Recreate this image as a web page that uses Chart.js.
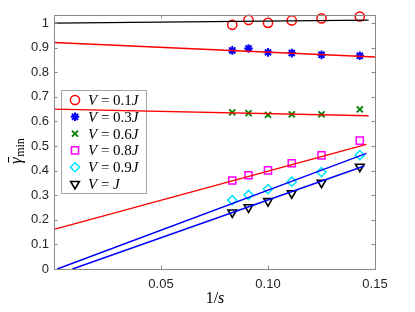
<!DOCTYPE html>
<html>
<head>
<meta charset="utf-8">
<script src="https://cdn.jsdelivr.net/npm/chart.js@4/dist/chart.umd.min.js"></script>
<style>
  html, body { margin: 0; padding: 0; background: #fff; }
  #wrap { width: 415px; height: 312px; }
</style>
</head>
<body>
<div id="wrap"><canvas id="gammaChart"></canvas></div>
<script>
// --- Data ---

// x positions: 1/s for s = 12 ... 7
const invS = [0.0833, 0.0909, 0.1000, 0.1111, 0.1250, 0.1429];

const seriesLabels = ['0.1', '0.3', '0.6', '0.8', '0.9', ''];
const v01 = [0.993, 1.013, 1.001, 1.011, 1.019, 1.027];
const v03 = [0.889, 0.897, 0.881, 0.878, 0.871, 0.867];
const v06 = [0.637, 0.634, 0.627, 0.629, 0.629, 0.649];
const v08 = [0.360, 0.381, 0.401, 0.430, 0.462, 0.522];
const v09 = [0.280, 0.301, 0.325, 0.355, 0.394, 0.463];
const v10 = [0.230, 0.251, 0.276, 0.308, 0.351, 0.416];

// fitted lines, [x0, y0, x1, y1]
const fitBlack = [0, 1.000, 0.147, 1.012];
const fitRed1 = [0, 0.921, 0.150, 0.862];
const fitRed2 = [0, 0.650, 0.147, 0.623];
const fitRed3 = [0, 0.161, 0.146, 0.507];
const fitBlue1 = [0.0015, 0, 0.146, 0.470];
const fitBlue2 = [0.0086, 0, 0.145, 0.419];

const xTicks = [0.05, 0.10, 0.15];
const xTickLabels = ['0.05', '0.10', '0.15'];
const yTicks = [0, 0.1, 0.2, 0.3, 0.4, 0.5, 0.6, 0.7, 0.8, 0.9, 1];
const yTickLabels = ['0', '0.1', '0.2', '0.3', '0.4', '0.5', '0.6', '0.7', '0.8', '0.9', '1'];

// --- Helpers ---

function toPoints(ys) {
    return ys.map((y, i) => ({ x: invS[i], y: y }));
}

function markerSet(label, ys, color, style, radius, width, rotation) {
    return {
        type: 'scatter',
        label: label,
        data: toPoints(ys),
        borderColor: color,
        backgroundColor: 'rgba(0,0,0,0)',
        pointStyle: style,
        pointRadius: radius,
        pointBorderWidth: width,
        pointRotation: rotation || 0,
        clip: false,
        isMarker: true
    };
}

function fitLine(seg, color) {
    return {
        type: 'line',
        data: [{ x: seg[0], y: seg[1] }, { x: seg[2], y: seg[3] }],
        borderColor: color,
        borderWidth: 1.4,
        pointRadius: 0,
        fill: false,
        clip: false,
        isMarker: false
    };
}

const serif = '"Liberation Serif", "DejaVu Serif", serif';
const axisGray = '#8a8a8a';

// --- Box, inward ticks, legend and axis labels ---

const framePlugin = {
    id: 'frame',
    beforeDatasetsDraw(chart) {
        const ctx = chart.ctx;
        // legend box (drawn under the lines, like the original)
        const lx = 61, ly = 90, lw = 85, lh = 103;
        ctx.save();
        ctx.fillStyle = '#fff';
        ctx.fillRect(lx, ly, lw, lh);
        ctx.strokeStyle = '#a6a6a6';
        ctx.lineWidth = 1;
        ctx.strokeRect(lx + 0.5, ly + 0.5, lw, lh);

        const markers = chart.data.datasets.filter(d => d.isMarker);
        markers.forEach((d, i) => {
            const cy = 100 + i * 16.8;
            ctx.strokeStyle = d.borderColor;
            ctx.fillStyle = 'rgba(0,0,0,0)';
            ctx.lineWidth = d.pointBorderWidth;
            Chart.helpers.drawPoint(ctx, {
                pointStyle: d.pointStyle,
                radius: d.pointRadius,
                rotation: d.pointRotation,
                borderWidth: d.pointBorderWidth
            }, 75, cy);

            // "V = 0.1J" : italic V and J, roman "= 0.1"
            ctx.fillStyle = '#000';
            ctx.textBaseline = 'middle';
            let x = 88;
            ctx.font = 'italic 15px ' + serif;
            ctx.fillText('V', x, cy + 1);
            x += ctx.measureText('V').width;
            ctx.font = '15px ' + serif;
            const mid = ' = ' + seriesLabels[i];
            ctx.fillText(mid, x, cy + 1);
            x += ctx.measureText(mid).width;
            ctx.font = 'italic 15px ' + serif;
            ctx.fillText('J', x, cy + 1);
        });
        ctx.restore();
    },
    afterDraw(chart) {
        const ctx = chart.ctx;
        const a = chart.chartArea;
        const xs = chart.scales.x, ys = chart.scales.y;
        ctx.save();
        ctx.strokeStyle = axisGray;
        ctx.lineWidth = 1;
        ctx.strokeRect(Math.round(a.left) + 0.5, Math.round(a.top) + 0.5,
            Math.round(a.right - a.left), Math.round(a.bottom - a.top));

        const len = 3.5;
        ctx.beginPath();
        xTicks.forEach(v => {
            const px = Math.round(xs.getPixelForValue(v)) + 0.5;
            ctx.moveTo(px, a.bottom); ctx.lineTo(px, a.bottom - len);
            ctx.moveTo(px, a.top); ctx.lineTo(px, a.top + len);
        });
        yTicks.forEach(v => {
            const py = Math.round(ys.getPixelForValue(v)) + 0.5;
            ctx.moveTo(a.left, py); ctx.lineTo(a.left + len, py);
            ctx.moveTo(a.right, py); ctx.lineTo(a.right - len, py);
        });
        ctx.stroke();

        // x axis title: 1/s
        ctx.fillStyle = '#000';
        ctx.textBaseline = 'alphabetic';
        ctx.font = '16px ' + serif;
        const w1 = ctx.measureText('1/').width;
        ctx.font = 'italic 16px ' + serif;
        const w2 = ctx.measureText('s').width;
        let tx = 215 - (w1 + w2) / 2;
        ctx.font = '16px ' + serif;
        ctx.fillText('1/', tx, 303);
        ctx.font = 'italic 16px ' + serif;
        ctx.fillText('s', tx + w1, 303);

        // y axis title: gamma with a bar, subscript min
        ctx.translate(21, 164);
        ctx.rotate(-Math.PI / 2);
        ctx.font = 'italic 17px ' + serif;
        ctx.fillText('\u03B3', 0, 0);
        const gw = ctx.measureText('\u03B3').width;
        ctx.beginPath();
        ctx.lineWidth = 1;
        ctx.strokeStyle = '#000';
        ctx.moveTo(1.5, -12.5);
        ctx.lineTo(gw + 0.5, -12.5);
        ctx.stroke();
        ctx.font = '12px ' + serif;
        ctx.fillText('min', gw + 0.5, 3);
        ctx.restore();
    }
};

// --- Chart ---

const ctx = document.getElementById('gammaChart').getContext('2d');
new Chart(ctx, {
    data: {
        datasets: [
            fitLine(fitBlack, '#000000'),
            fitLine(fitRed1, '#ff0000'),
            fitLine(fitRed2, '#ff0000'),
            fitLine(fitRed3, '#ff0000'),
            fitLine(fitBlue1, '#0000ff'),
            fitLine(fitBlue2, '#0000ff'),
            markerSet('V = 0.1J', v01, '#ff0000', 'circle', 4.6, 1.5),
            markerSet('V = 0.3J', v03, '#0000ff', 'star', 4.3, 2),
            markerSet('V = 0.6J', v06, '#008000', 'crossRot', 4.3, 1.8),
            markerSet('V = 0.8J', v08, '#ff00ff', 'rect', 5, 1.5),
            markerSet('V = 0.9J', v09, '#00e5ff', 'rectRot', 4.6, 1.5),
            markerSet('V = J', v10, '#000000', 'triangle', 5, 1.6, 180)
        ]
    },
    options: {
        responsive: true,
        maintainAspectRatio: false,
        animation: false,
        layout: { padding: { left: 0, right: 40, top: 15, bottom: 0 } },
        plugins: {
            legend: { display: false },
            tooltip: { enabled: false }
        },
        scales: {
            x: {
                type: 'linear',
                min: 0,
                max: 0.15,
                grid: { display: false, drawTicks: false },
                border: { display: false },
                afterBuildTicks: scale => {
                    scale.ticks = xTicks.map(v => ({ value: v }));
                },
                afterFit: scale => { scale.height = 43; },
                ticks: {
                    padding: 8,
                    color: '#262626',
                    font: { family: '"Liberation Sans", Arial, sans-serif', size: 13 },
                    callback: (v) => xTickLabels[xTicks.findIndex(t => Math.abs(t - v) < 1e-9)]
                }
            },
            y: {
                type: 'linear',
                min: 0,
                max: 1.033,
                grid: { display: false, drawTicks: false },
                border: { display: false },
                afterBuildTicks: scale => {
                    scale.ticks = yTicks.map(v => ({ value: v }));
                },
                afterFit: scale => { scale.width = 54; },
                ticks: {
                    padding: 5,
                    color: '#262626',
                    font: { family: '"Liberation Sans", Arial, sans-serif', size: 13 },
                    callback: (v) => yTickLabels[yTicks.findIndex(t => Math.abs(t - v) < 1e-9)]
                }
            }
        }
    },
    plugins: [framePlugin]
});
</script>
</body>
</html>
